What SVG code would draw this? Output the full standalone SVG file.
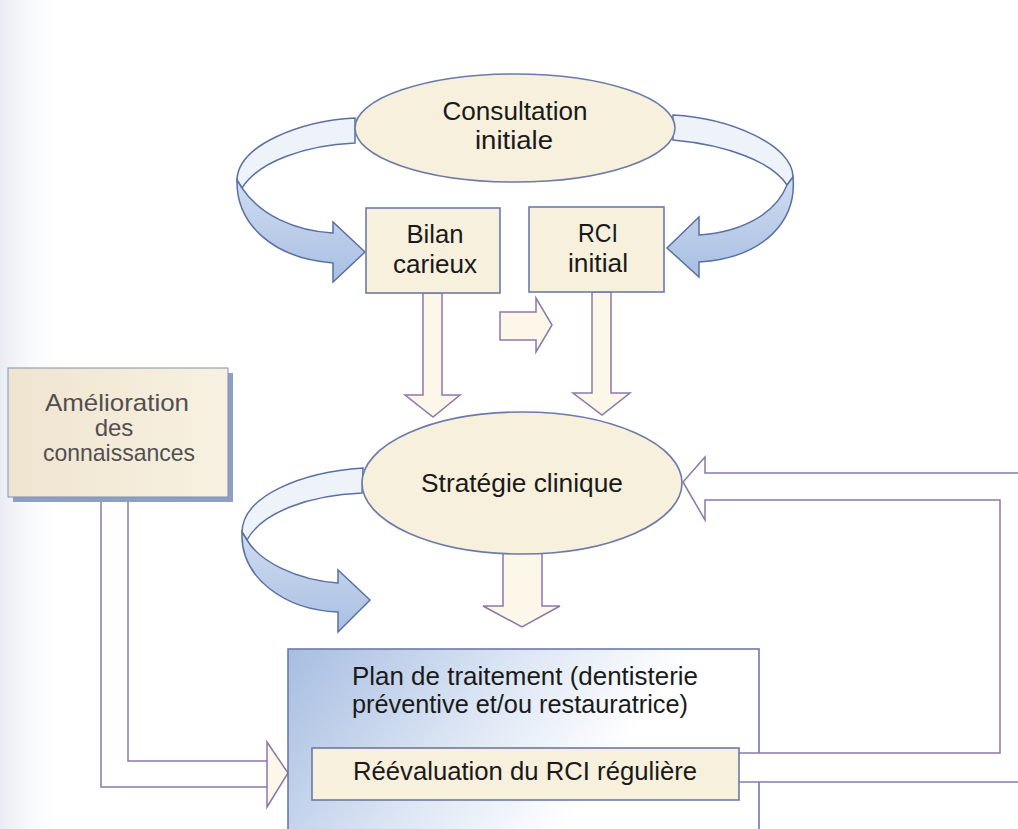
<svg xmlns="http://www.w3.org/2000/svg" width="1018" height="829" viewBox="0 0 1018 829">
<defs>
<style>
.lbl{font-family:"Liberation Sans",Arial,Helvetica,sans-serif;font-size:25px;fill:#1a1a1a;text-anchor:middle}
.lft{text-anchor:start}
.grey{fill:#505050;font-size:24px}
.node{fill:#f7f0dd;stroke:#6b7aa8;stroke-width:1.6}
.hollow{fill:#fcf7e8;stroke:#8a78aa;stroke-width:1.5;stroke-linejoin:miter}
.line{fill:none;stroke:#8a78aa;stroke-width:1.5}
.back{fill:#eef2f9;stroke:#5a70a4;stroke-width:1.5}
.front{fill:url(#blueRib);stroke:#5a70a4;stroke-width:1.5;stroke-linejoin:miter}
</style>
<linearGradient id="blueRib" x1="0" y1="0" x2="0" y2="1">
<stop offset="0" stop-color="#cfdcf0"/>
<stop offset="1" stop-color="#a9bfe2"/>
</linearGradient>
<linearGradient id="planGrad" x1="0" y1="0" x2="1" y2="0.3">
<stop offset="0" stop-color="#a7bde1"/>
<stop offset="0.45" stop-color="#dbe5f4"/>
<stop offset="0.8" stop-color="#ffffff"/>
</linearGradient>
<linearGradient id="ameGrad" x1="0" y1="0" x2="1" y2="0">
<stop offset="0" stop-color="#efe4d0"/>
<stop offset="1" stop-color="#f8f1e1"/>
</linearGradient>
<linearGradient id="leftEdge" x1="0" y1="0" x2="1" y2="0">
<stop offset="0" stop-color="#e9ecf3"/>
<stop offset="1" stop-color="#ffffff" stop-opacity="0"/>
</linearGradient>
</defs>
<rect x="0" y="0" width="1018" height="829" fill="#ffffff"/>
<rect x="0" y="0" width="70" height="829" fill="url(#leftEdge)"/>

<g id="connectors">
<path class="back" d="M355,118 C300,121 238,145 237,180 L242,188 C258,162 305,145 355,143 Z"/>
<path class="front" d="M237,180 C236,222 270,258 333,263 L333,282 L365,252 L333,222 L333,233 C295,231 260,215 242,188 Z"/>
<path class="back" d="M673,115 C730,118 793,145 793,177 L787,185 C772,162 728,145 673,140 Z"/>
<path class="front" d="M793,177 C797,220 765,258 699,262 L699,277 L667,248 L699,217 L699,235 C743,232 776,213 787,185 Z"/>
<path class="back" d="M363,468 C303,472 243,495 242,532 L247,540 C262,512 310,495 362,493 Z"/>
<path class="front" d="M242,532 C240,578 285,610 338,612 L338,632 L370,600 L338,570 L338,583 C297,580 260,562 247,540 Z"/>
<path class="hollow" d="M500,312 L536,312 L536,298 L552,325 L536,352 L536,340 L500,340 Z"/>
<path class="hollow" d="M423,293 L442,293 L442,395 L460,395 L433,417 L405,395 L423,395 Z"/>
<path class="hollow" d="M592,292 L611,292 L611,393 L630,393 L602,415 L573,393 L592,393 Z"/>
<path class="hollow" d="M503,553 L542,553 L542,606 L560,606 L522,627 L483,606 L503,606 Z"/>
<path class="line" d="M128,497 L128,761 L267,761 M101,497 L101,787 L267,787"/>
<path class="hollow" d="M267,742 L288,773 L267,807 Z"/>
</g>

<g id="node-plan">
<rect x="288" y="649" width="471" height="190" fill="url(#planGrad)" stroke="#6b7aa8" stroke-width="1.6"/>
<text class="lbl lft" x="352" y="685" textLength="346" lengthAdjust="spacingAndGlyphs">Plan de traitement (dentisterie</text>
<text class="lbl lft" x="352" y="713" textLength="336" lengthAdjust="spacingAndGlyphs">préventive et/ou restauratrice)</text>
</g>

<g id="return-arrow">
<path d="M739,753 L1000,753 L1000,500 L705,500 L705,520 L683,482 L705,457 L705,473 L1018,473 L1018,782 L739,782 Z" fill="#ffffff" stroke="none"/>
<path class="line" d="M739,753 L1000,753 L1000,500 L705,500 L705,520 L683,482 L705,457 L705,473 L1020,473 M739,782 L1020,782"/>
</g>

<g id="node-reevaluation">
<rect class="node" x="312" y="748" width="427" height="52" fill="#f8f2e2"/>
<text class="lbl" x="525" y="780" textLength="344" lengthAdjust="spacingAndGlyphs">Réévaluation du RCI régulière</text>
</g>

<g id="node-consultation">
<ellipse class="node" cx="515" cy="128" rx="160" ry="54"/>
<text class="lbl" x="515" y="120" textLength="145" lengthAdjust="spacingAndGlyphs">Consultation</text>
<text class="lbl" x="514" y="149" textLength="78" lengthAdjust="spacingAndGlyphs">initiale</text>
</g>

<g id="node-bilan">
<rect class="node" x="366" y="208" width="134" height="85"/>
<text class="lbl" x="435" y="243" textLength="57" lengthAdjust="spacingAndGlyphs">Bilan</text>
<text class="lbl" x="435" y="273" textLength="84" lengthAdjust="spacingAndGlyphs">carieux</text>
</g>

<g id="node-rci">
<rect class="node" x="529" y="207" width="135" height="85"/>
<text class="lbl" x="598" y="242" textLength="40" lengthAdjust="spacingAndGlyphs">RCI</text>
<text class="lbl" x="598" y="272" textLength="60" lengthAdjust="spacingAndGlyphs">initial</text>
</g>

<g id="node-strategie">
<ellipse class="node" cx="522" cy="483" rx="160" ry="71"/>
<text class="lbl" x="522" y="492" textLength="202" lengthAdjust="spacingAndGlyphs">Stratégie clinique</text>
</g>

<g id="node-amelioration">
<rect x="13" y="373" width="220" height="129" fill="#8f9fc2"/>
<rect x="8" y="368" width="220" height="129" fill="url(#ameGrad)" stroke="#7f8fb5" stroke-width="1"/>
<text class="lbl grey" x="117" y="411" textLength="144" lengthAdjust="spacingAndGlyphs">Amélioration</text>
<text class="lbl grey" x="114" y="436">des</text>
<text class="lbl grey" x="119" y="461" textLength="152" lengthAdjust="spacingAndGlyphs">connaissances</text>
</g>
</svg>
